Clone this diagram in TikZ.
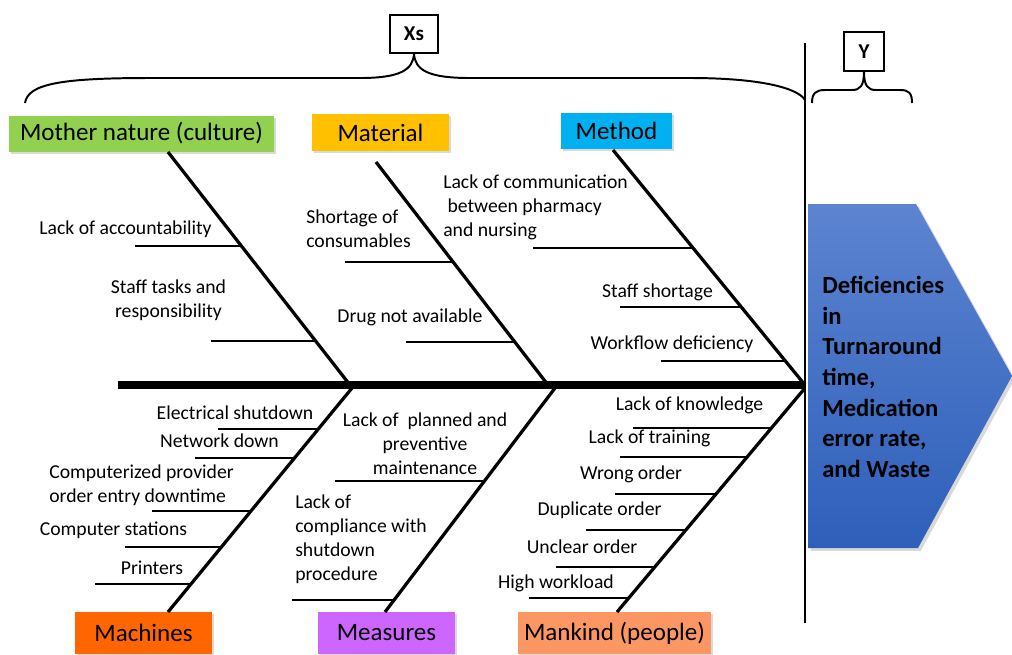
\documentclass[tikz,border=0pt]{standalone}
\usepackage{fontspec}
\setmainfont{Carlito}
\usetikzlibrary{shadows}
\definecolor{natgreen}{HTML}{92D050}
\definecolor{matyellow}{HTML}{FFC000}
\definecolor{methblue}{HTML}{00B0F0}
\definecolor{machorange}{HTML}{FF6600}
\definecolor{measpurple}{HTML}{CC66FF}
\definecolor{mansalmon}{RGB}{252,150,98}
\definecolor{headtop}{RGB}{92,132,208}
\definecolor{headbot}{RGB}{46,95,186}
\begin{document}
\begin{tikzpicture}[x=0.025cm,y=-0.025cm,
        cat/.style={inner sep=0pt,minimum height=0.9cm,font=\fontsize{17.8}{21}\selectfont,
          drop shadow={shadow xshift=1.5pt,shadow yshift=-1.5pt,opacity=0.3}},
        lbl/.style={inner sep=0pt,font=\fontsize{14}{17}\selectfont},
        bone/.style={line width=2.3pt},
        rib/.style={line width=0.8pt},
        tag/.style={draw,line width=1pt,inner sep=0pt,font=\bfseries\fontsize{15}{17}\selectfont},
        brace/.style={line width=1.4pt}]
        \useasboundingbox (0,0) rectangle (1012,654);
        \path[top color=headtop,bottom color=headbot,
          drop shadow={shadow xshift=2pt,shadow yshift=-2pt,opacity=0.3}]
          (808,204) -- (916,204) -- (1012,376) -- (918,548) -- (808,548) -- cycle;
        \node[font=\bfseries\fontsize{17.5}{21.8}\selectfont,align=left,anchor=west,inner sep=0pt] (h) at (822,377)
          {Deficiencies\\in\\Turnaround\\time,\\Medication\\error rate,\\and Waste};
        \node[tag,minimum width=1.2cm,minimum height=0.95cm] (x0) at (414,34) {Xs};
        \node[tag,minimum width=1cm,minimum height=0.975cm] (y0) at (864,51.5) {Y};
        \node[cat,fill=natgreen,minimum width=6.625cm] (c0) at (141.5,133.5) {Mother nature (culture)};
        \node[cat,fill=matyellow,minimum width=3.425cm,minimum height=0.925cm] (c1) at (380.5,132.5) {Material};
        \node[cat,fill=methblue,minimum width=2.775cm] (c2) at (616.5,131) {Method};
        \node[cat,fill=machorange,minimum width=3.425cm,minimum height=1.05cm] (c3) at (143.5,633) {Machines};
        \node[cat,fill=measpurple,minimum width=3.425cm,minimum height=1.05cm] (c4) at (386.5,633) {Measures};
        \node[cat,fill=mansalmon,minimum width=4.825cm,minimum height=1.05cm] (c5) at (614.5,633) {Mankind (people)};
        \coordinate (t0) at (168,152);
        \coordinate (t1) at (376,162);
        \coordinate (t2) at (613,150);
        \coordinate (t3) at (168,612);
        \coordinate (t4) at (385,612);
        \coordinate (t5) at (617,612);
        \coordinate (j0) at (350,385);
        \coordinate (j1) at (548,385);
        \coordinate (j2) at (805,385);
        \coordinate (k0) at (352,388);
        \coordinate (k1) at (555,388);
        \coordinate (k2) at (805,388);
        \coordinate (s0) at (118,385);
        \coordinate (v0) at (805,43);
        \coordinate (v1) at (805,623);
        \draw[line width=5.5pt] (s0) -- (j2);
        \draw[line width=1.8pt] (v0) -- (v1);
        \draw[bone] (t0) -- (j0);
        \draw[bone] (t1) -- (j1);
        \draw[bone] (t2) -- (j2);
        \draw[bone] (k0) -- (t3);
        \draw[bone] (k1) -- (t4);
        \draw[bone] (k2) -- (t5);
        \draw[brace] (25,103) .. controls (28,84) and (60,78) .. (150,78) -- (360,78)
          .. controls (400,78) and (413,70) .. (x0.south);
        \draw[brace] (x0.south) .. controls (415,70) and (428,78) .. (470,78) -- (690,78)
          .. controls (760,78) and (798,88) .. (805,100);
        \draw[brace] (812,103) .. controls (812,93) and (816,90) .. (825,90) -- (852,90)
          .. controls (860,90) and (864,86) .. (y0.south);
        \draw[brace] (y0.south) .. controls (864,86) and (868,90) .. (876,90) -- (900,90)
          .. controls (909,90) and (912,93) .. (912,103);
        \coordinate (p0) at (135,246);   \coordinate (q0) at (241.7,246);
        \coordinate (p1) at (211,341);   \coordinate (q1) at (316.3,341);
        \coordinate (p2) at (345,262);   \coordinate (q2) at (453.5,262);
        \coordinate (p3) at (406,342);   \coordinate (q3) at (515.5,342);
        \coordinate (p4) at (533,248);   \coordinate (q4) at (693.4,248);
        \coordinate (p5) at (620,307);   \coordinate (q5) at (741.8,307);
        \coordinate (p6) at (661,361);   \coordinate (q6) at (786.1,361);
        \coordinate (p7) at (218,429);   \coordinate (q7) at (318.3,429);
        \coordinate (p8) at (195,458);   \coordinate (q8) at (294.5,458);
        \coordinate (p9) at (152,511);   \coordinate (q9) at (251,511);
        \coordinate (p10) at (125,547);  \coordinate (q10) at (221.5,547);
        \coordinate (p11) at (95,584);   \coordinate (q11) at (191.1,584);
        \coordinate (p12) at (335,481);  \coordinate (q12) at (484.4,481);
        \coordinate (p13) at (292,600);  \coordinate (q13) at (394.1,600);
        \coordinate (p14) at (633,428);  \coordinate (q14) at (771.4,428);
        \coordinate (p15) at (620,457);  \coordinate (q15) at (747.1,457);
        \coordinate (p16) at (615,494);  \coordinate (q16) at (716.1,494);
        \coordinate (p17) at (586,530);  \coordinate (q17) at (685.9,530);
        \coordinate (p18) at (556,567);  \coordinate (q18) at (654.8,567);
        \coordinate (p19) at (529,598);  \coordinate (q19) at (628.8,598);
        \draw[rib] (p0) -- (q0);
        \draw[rib] (p1) -- (q1);
        \draw[rib] (p2) -- (q2);
        \draw[rib] (p3) -- (q3);
        \draw[rib] (p4) -- (q4);
        \draw[rib] (p5) -- (q5);
        \draw[rib] (p6) -- (q6);
        \draw[rib] (p7) -- (q7);
        \draw[rib] (p8) -- (q8);
        \draw[rib] (p9) -- (q9);
        \draw[rib] (p10) -- (q10);
        \draw[rib] (p11) -- (q11);
        \draw[rib] (p12) -- (q12);
        \draw[rib] (p13) -- (q13);
        \draw[rib] (p14) -- (q14);
        \draw[rib] (p15) -- (q15);
        \draw[rib] (p16) -- (q16);
        \draw[rib] (p17) -- (q17);
        \draw[rib] (p18) -- (q18);
        \draw[rib] (p19) -- (q19);
        \node[lbl] (l0) at (125.5,229) {Lack of accountability};
        \node[lbl,align=center] (l1) at (168.5,300.5) {Staff tasks and\\responsibility};
        \node[lbl,align=left,anchor=west] (l2) at (306,228.5) {Shortage of\\consumables};
        \node[lbl] (l3) at (410,317) {Drug not available};
        \node[lbl,align=left,anchor=west] (l4) at (443,207) {Lack of communication\\\hspace*{3pt}between pharmacy\\and nursing};
        \node[lbl] (l5) at (657.5,292) {Staff shortage};
        \node[lbl] (l6) at (672,344) {Workflow\ deficiency};
        \node[lbl] (l7) at (235,413) {Electrical shutdown};
        \node[lbl] (l8) at (219.5,441) {Network down};
        \node[lbl,align=left] (l9) at (141.5,485) {Computerized provider\\order entry downtime};
        \node[lbl] (l10) at (113.5,530) {Computer\ stations};
        \node[lbl] (l11) at (152,568) {Printers};
        \node[lbl,align=center] (l12) at (425,444) {Lack of\ \ planned and\\preventive\\maintenance};
        \node[lbl,align=left,anchor=west] (l13) at (295,539.5) {Lack of\\compliance with\\shutdown\\procedure};
        \node[lbl] (l14) at (689.5,405) {Lack of knowledge};
        \node[lbl] (l15) at (649.5,438) {Lack of training};
        \node[lbl] (l16) at (631,474) {Wrong order};
        \node[lbl] (l17) at (599.5,510) {Duplicate order};
        \node[lbl] (l18) at (582,547) {Unclear order};
        \node[lbl] (l19) at (556,583) {High workload};
        \end{tikzpicture}
\end{document}
